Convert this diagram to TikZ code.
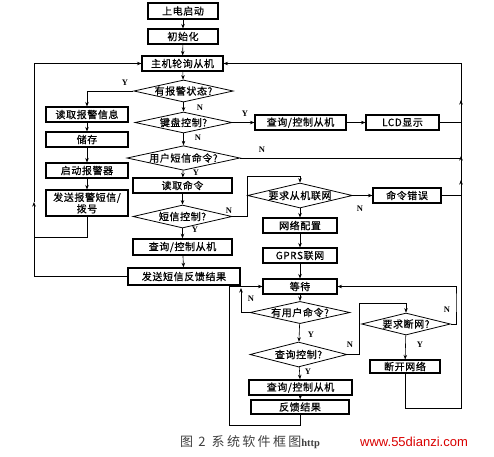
\documentclass[tikz,border=0pt]{standalone}
\usepackage{fontspec}
\setmainfont{Liberation Serif}
\setsansfont{Liberation Sans}
\newfontfamily\cjk[LetterSpace=6,FakeBold=0.6]{Noto Sans CJK SC}
\newfontfamily\cjkcap[LetterSpace=18]{Noto Sans CJK SC}
\usetikzlibrary{shapes.geometric,arrows.meta}
\begin{document}
\begin{tikzpicture}[x=1pt,y=-1pt,
  box/.style={draw,line width=1.1pt,inner sep=0pt,font=\cjk\fontsize{10}{11.5}\selectfont},
  dia/.style={draw,diamond,aspect=4.5,line width=0.8pt,inner sep=0pt,font=\cjk\fontsize{10}{10}\selectfont},
  arr/.style={-{Stealth[length=4.5pt,width=3.5pt]},line width=0.6pt},
  ln/.style={line width=0.6pt},
  lab/.style={font=\bfseries\fontsize{8.5}{8.5}\selectfont,inner sep=0pt}]
\useasboundingbox (0,0) rectangle (494,456);
% main column
\node[box,minimum width=70pt,minimum height=16pt] (start) at (183,11) {上电启动};
\node[box,minimum width=70pt,minimum height=15pt] (init) at (183,36.5) {初始化};
\node[box,minimum width=81pt,minimum height=15pt] (main) at (182.5,63.5) {主机轮询从机};
\node[dia,minimum width=97pt,minimum height=22pt] (d1) at (183.5,91) {有报警状态?};
\node[dia,minimum width=97pt,minimum height=21pt] (d2) at (183.5,122.5) {键盘控制?};
\node[dia,minimum width=113pt,minimum height=24pt] (d3) at (183.5,158) {用户短信命令?};
\node[box,minimum width=99pt,minimum height=15pt] (readcmd) at (182.5,185.5) {读取命令};
\node[dia,minimum width=99pt,minimum height=23pt] (d4) at (182.5,216.5) {短信控制?};
\node[box,minimum width=99pt,minimum height=16pt,line width=1.5pt] (qc2) at (182.5,247) {查询/控制从机};
\node[box,minimum width=112pt,minimum height=17pt,line width=1.5pt] (fb) at (184,276.5) {发送短信反馈结果};
% left column
\node[box,minimum width=82pt,minimum height=15pt] (ra) at (87,114.5) {读取报警信息};
\node[box,minimum width=82pt,minimum height=15pt] (store) at (87,139.5) {储存};
\node[box,minimum width=82pt,minimum height=15pt] (alarm) at (87,170.5) {启动报警器};
\node[box,minimum width=82pt,minimum height=26pt,align=center] (asms) at (87,203) {发送报警短信/\\拨号};
% top right
\node[box,minimum width=91pt,minimum height=15pt] (qc1) at (300.5,122.5) {查询/控制从机};
\node[box,minimum width=73pt,minimum height=15pt] (lcd) at (402.5,122.5) {LCD显示};
% network column
\node[dia,minimum width=94pt,minimum height=25pt] (d5) at (300,195.5) {要求从机联网};
\node[box,minimum width=68pt,minimum height=15pt] (err) at (407,195.5) {命令错误};
\node[box,minimum width=74pt,minimum height=15pt] (net) at (300,225.5) {网络配置};
\node[box,minimum width=74pt,minimum height=15pt] (gprs) at (300,255.5) {GPRS联网};
\node[box,minimum width=74pt,minimum height=15pt] (wait) at (300,286.5) {等待};
\node[dia,minimum width=96pt,minimum height=21pt] (d6) at (300,312.5) {有用户命令?};
\node[dia,minimum width=97pt,minimum height=25pt] (d7) at (298.5,354.5) {查询控制?};
\node[box,minimum width=103pt,minimum height=15pt,line width=1.5pt] (qc3) at (300.5,387.5) {查询/控制从机};
\node[box,minimum width=98pt,minimum height=14pt,line width=1.5pt] (res) at (300,407) {反馈结果};
\node[dia,minimum width=82pt,minimum height=22pt] (d8) at (406,324) {要求断网?};
\node[box,minimum width=70pt,minimum height=13pt] (off) at (405,366.5) {断开网络};
% main arrows
\draw[arr] (start) -- (init);
\draw[arr] (init) -- (main);
\draw[arr] (main) -- (d1);
\draw[arr] (d1) -- (d2);
\draw[arr] (d2) -- (d3);
\draw[arr] (d3) -- (readcmd);
\draw[arr] (readcmd) -- (d4);
\draw[arr] (d4) -- (qc2);
\draw[arr] (qc2) -- (fb);
% left
\draw[arr] (d1.west) -| (ra.north);
\draw[arr] (ra) -- (store);
\draw[arr] (store) -- (alarm);
\draw[arr] (alarm) -- (asms);
\coordinate (lj) at (34,202);
\draw[arr] (fb.west) -| (lj);
\draw[ln] (asms.south) |- (34,237);
\draw[arr] (lj) |- (main.west);
% top right
\draw[arr] (d2.east) -- (qc1.west);
\draw[arr] (qc1) -- (lcd);
\draw[arr] (lcd.east) -| (461,90) |- (main.east);
\draw[arr] (d3.east) -| (461,100);
\draw[arr] (err.east) -| (461,156);
\draw[arr] (off.south) |- (461,408) -- (461,180);
% network
\draw[arr] (d4.east) -| (247,176) -| (d5.north);
\draw[arr] (d5) -- (err);
\draw[arr] (d5) -- (net);
\draw[arr] (net) -- (gprs);
\draw[arr] (gprs) -- (wait);
\draw[arr] (wait) -- (d6);
\draw[arr] (d6) -- (d7);
\draw[arr] (d7) -- (qc3);
\draw[arr] (qc3) -- (res);
\draw[arr] (res.south) |- (229,425) |- (wait.west);
\draw[arr] (d6.west) -| (241,288);
\draw[arr] (d7.east) -| (359,303) -| (d8.north);
\draw[arr] (d8) -- (off);
\draw[arr] (d8.east) -| (456,300) |- (wait.east);
% labels
\node[lab] at (125,83) {Y};
\node[lab] at (200,108) {N};
\node[lab] at (198,138) {N};
\node[lab] at (245,114) {Y};
\node[lab] at (262,150) {N};
\node[lab] at (196,173) {Y};
\node[lab] at (229,211) {N};
\node[lab] at (195,230) {Y};
\node[lab] at (360,209) {N};
\node[lab] at (251,299) {N};
\node[lab] at (311,335) {Y};
\node[lab] at (350,345) {N};
\node[lab] at (308,372) {Y};
\node[lab] at (447,310) {N};
\node[lab] at (420,345) {Y};
% caption
\node[anchor=west,inner sep=0pt,text=black!75,font=\cjkcap\fontsize{13}{13}\selectfont] (cap) at (180,442) {图 2\hspace{6pt}系统软件框图{\bfseries\rmfamily\fontsize{10.5}{10}\selectfont http}};
\node[anchor=west,inner sep=0pt,text=red!85!black,font=\sffamily\fontsize{13}{13}\selectfont] (wm) at (360,442) {www.55dianzi.com};
\end{tikzpicture}
\end{document}
